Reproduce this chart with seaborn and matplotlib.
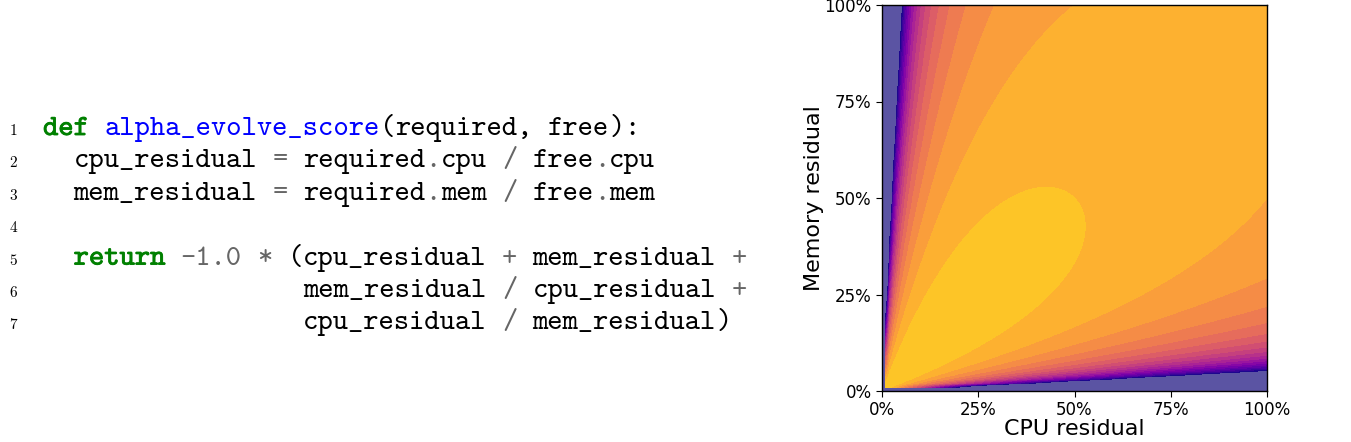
import os
import re
import numpy as np
import matplotlib
matplotlib.use('Agg')
import matplotlib.pyplot as plt
import matplotlib.patheffects as pe
from matplotlib.font_manager import FontProperties
from matplotlib.ticker import PercentFormatter
import seaborn as sns

# Code listing shown on the left
code_lines = [
    "def alpha_evolve_score(required, free):",
    "  cpu_residual = required.cpu / free.cpu",
    "  mem_residual = required.mem / free.mem",
    "",
    "  return -1.0 * (cpu_residual + mem_residual +",
    "                 mem_residual / cpu_residual +",
    "                 cpu_residual / mem_residual)",
]
keywords = ['def', 'return']

# Grid of residuals and the contour levels of the score
cpu_residual = np.linspace(0.01, 1.0, 100)
mem_residual = np.linspace(0.01, 1.0, 100)
score_levels = np.arange(-20, 1, 1)
tick_values = [0, 0.25, 0.5, 0.75, 1.0]

sns.set_style('ticks', {'axes.edgecolor': 'black', 'xtick.color': 'black',
                        'ytick.color': 'black', 'text.color': 'black',
                        'axes.labelcolor': 'black'})
plt.rcParams['font.family'] = ['DejaVu Sans']

W, H = 1351, 442
fig = plt.figure(figsize=(W / 100, H / 100), dpi=100)

# --- code panel ---
ttf_dir = os.path.join(matplotlib.get_data_path(), 'fonts', 'ttf')
tt_path = os.path.join(ttf_dir, 'cmtt10.ttf')
rm_path = os.path.join(ttf_dir, 'cmr10.ttf')
code_font = FontProperties(fname=tt_path, size=21) if os.path.exists(tt_path) \
    else FontProperties(family='DejaVu Sans Mono', size=18.3)
num_font = FontProperties(fname=rm_path, size=11) if os.path.exists(rm_path) \
    else FontProperties(family='DejaVu Serif', size=10)

x0, char_w = 43, 15.3
y0, line_h = 135, 32.4
token_re = re.compile(r"[A-Za-z_]\w*|-?\d+\.\d+|[=+/*.]|[(),:]")

for i, line in enumerate(code_lines):
    yb = 1 - (y0 + i * line_h) / H
    fig.text(17 / W, yb, str(i + 1), fontproperties=num_font,
             ha='right', va='baseline')
    prev = None
    for m in token_re.finditer(line):
        tok = m.group()
        color, effects = 'black', None
        if tok in keywords:
            color = '#008000'
            effects = [pe.withStroke(linewidth=0.6, foreground=color)]
        elif prev == 'def':
            color = '#0000ff'
        elif re.fullmatch(r"-?\d+\.\d+|[=+/*.]", tok):
            color = '#666666'
        fig.text((x0 + m.start() * char_w) / W, yb, tok, color=color,
                 fontproperties=code_font, ha='left', va='baseline',
                 path_effects=effects)
        prev = tok

# --- score contour panel ---
ax = fig.add_axes([882 / W, 51 / H, 385 / W, 386 / H])
X, Y = np.meshgrid(cpu_residual, mem_residual)
Z = -1.0 * (X + Y + Y / X + X / Y)
ax.set_facecolor('#5b54a3')
ax.contourf(X, Y, Z, levels=score_levels, cmap='plasma')

ax.set_xlim(0, 1)
ax.set_ylim(0, 1)
ax.set_xticks(tick_values)
ax.set_yticks(tick_values)
ax.xaxis.set_major_formatter(PercentFormatter(1.0, decimals=0))
ax.yaxis.set_major_formatter(PercentFormatter(1.0, decimals=0))
ax.tick_params(labelsize=12, length=4)
ax.set_xlabel('CPU residual', fontsize=16, labelpad=0)
ax.set_ylabel('Memory residual', fontsize=16, labelpad=0.5)
for s in ax.spines.values():
    s.set_visible(True)
    s.set_linewidth(1.0)

fig.savefig('out.png', dpi=100)
